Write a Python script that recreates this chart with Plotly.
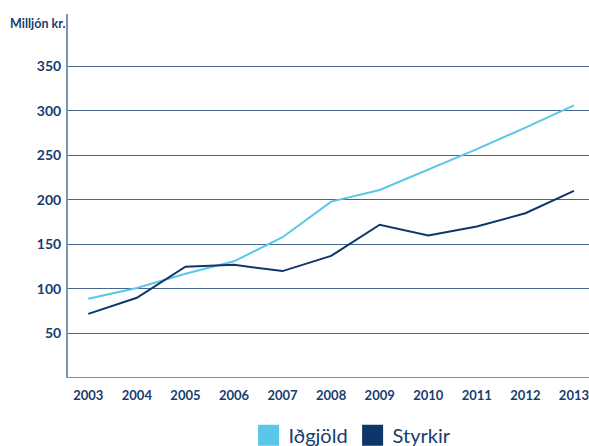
import plotly.graph_objects as go

years = [2003, 2004, 2005, 2006, 2007, 2008, 2009, 2010, 2011, 2012, 2013]
idgjold = [89, 101, 117, 131, 158, 198, 211, 234, 257, 281, 306]
styrkir = [72, 90, 125, 127, 120, 137, 172, 160, 170, 185, 210]
y_ticks = [50, 100, 150, 200, 250, 300, 350]
series_names = ["Iðgjöld", "Styrkir"]

LIGHT = "#5bc6e9"
NAVY = "#0f3669"
TEXT = "#173d6e"
GRID = "#47668c"
AXIS = "#7c94b0"
FONT = "Lato"

fig = go.Figure()
fig.add_trace(go.Scatter(x=years, y=idgjold, mode="lines", line=dict(color=LIGHT, width=2),
                         showlegend=False, hoverinfo="skip"))
fig.add_trace(go.Scatter(x=years, y=styrkir, mode="lines", line=dict(color=NAVY, width=2),
                         showlegend=False, hoverinfo="skip"))
# legend swatches (squares)
for name, col in zip(series_names, [LIGHT, NAVY]):
    fig.add_trace(go.Scatter(x=[None], y=[None], mode="markers", name=name,
                             marker=dict(symbol="square", size=16, color=col,
                                         line=dict(color=col, width=5))))

fig.update_layout(
    width=589, height=446,
    margin=dict(l=68, r=0, t=14, b=68, autoexpand=False),
    paper_bgcolor="white", plot_bgcolor="white",
    font=dict(family=FONT, color=TEXT),
    xaxis=dict(range=[2002.582, 2013.31], tickvals=years, ticktext=[str(y) for y in years],
               showgrid=False, zeroline=False, showline=False,
               tickfont=dict(family=FONT, size=13, color=TEXT, weight="bold"),
               ticks="", ticklen=0, ticklabelstandoff=8, ticklabeloverflow="allow"),
    yaxis=dict(range=[0, 408.6], tickvals=y_ticks, showgrid=True, gridcolor=GRID, gridwidth=1.3,
               zeroline=False, showline=True, linecolor=AXIS, linewidth=2,
               tickfont=dict(family=FONT, size=14, color=TEXT, weight="bold"),
               ticks="", ticklabelstandoff=2),
    legend=dict(orientation="h", xref="container", yref="container", x=0.422, y=0.068,
                xanchor="left", yanchor="top",
                font=dict(family=FONT, size=20, color=TEXT), itemsizing="trace",
                bgcolor="rgba(0,0,0,0)"),
    annotations=[dict(text="Milljón kr.", xref="paper", yref="paper", x=0, y=1,
                      xanchor="right", yanchor="middle", xshift=-1, yshift=-9, showarrow=False,
                      font=dict(family=FONT, size=12.5, color=TEXT, weight="bold"))],
    shapes=[dict(type="line", xref="paper", yref="y", x0=0, x1=1, y0=0, y1=0,
                 line=dict(color=AXIS, width=2), layer="above")],
)

fig.write_html("out.html", config={"displayModeBar": False},
               post_script="document.body.style.margin='0';")
